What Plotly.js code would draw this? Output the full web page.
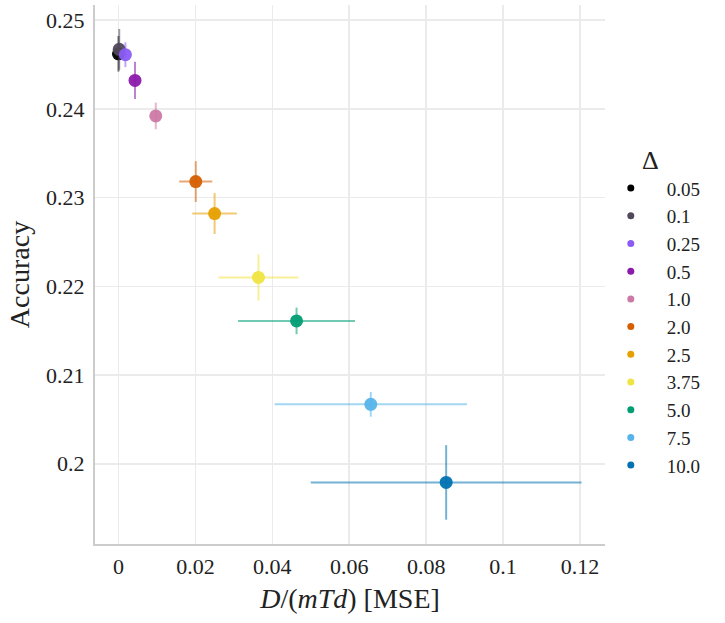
<!DOCTYPE html>
<html><head><meta charset="utf-8">
<script src="https://cdn.plot.ly/plotly-3.0.1.min.js"></script>
<style>html,body{margin:0;padding:0;background:#fff;}</style>
</head><body>
<div id="chart" style="width:725px;height:623px;"></div>
<script>
const deltas = ['0.05','0.1','0.25','0.5','1.0','2.0','2.5','3.75','5.0','7.5','10.0'];
const mse = [0.0000, 0.0002, 0.0018, 0.0043, 0.0097, 0.0201, 0.0250, 0.0364, 0.0463, 0.0656, 0.0852];
const mseErr = [0.0002, 0.0003, 0.0004, 0.0005, 0.0006, 0.0043, 0.0058, 0.0104, 0.0152, 0.0250, 0.0352];
const acc = [0.2462, 0.2467, 0.2461, 0.2432, 0.2392, 0.2318, 0.2282, 0.2210, 0.2161, 0.2067, 0.1979];
const accErr = [0.0020, 0.0023, 0.0014, 0.0021, 0.0015, 0.0023, 0.0023, 0.0026, 0.0015, 0.0014, 0.0042];
const colors = ['#000000','#51485b','#8a5cf5','#8c1aac','#cc79a7','#d55e00','#e69f00','#f0e442','#009e73','#56b4e9','#0072b2'];
const xTicks = [0, 0.02, 0.04, 0.06, 0.08, 0.1, 0.12];
const xTickText = ['0','0.02','0.04','0.06','0.08','0.1','0.12'];
const yTicks = [0.2, 0.21, 0.22, 0.23, 0.24, 0.25];
const yTickText = ['0.2','0.21','0.22','0.23','0.24','0.25'];

function rgba(hex, a){
  const r=parseInt(hex.slice(1,3),16), g=parseInt(hex.slice(3,5),16), b=parseInt(hex.slice(5,7),16);
  return 'rgba('+r+','+g+','+b+','+a+')';
}
const serif = '"Liberation Serif", "DejaVu Serif", serif';
const traces = [];
deltas.forEach((d,i)=>{
  traces.push({
    type:'scatter', mode:'markers', x:[mse[i]], y:[acc[i]],
    error_x:{type:'data', array:[mseErr[i]], color:rgba(colors[i],0.55), thickness:2, width:0},
    error_y:{type:'data', array:[accErr[i]], color:rgba(colors[i],0.55), thickness:2, width:0},
    marker:{color:colors[i], size:13, opacity:0.95, line:{width:0}},
    showlegend:false, hoverinfo:'skip'
  });
});
deltas.forEach((d,i)=>{
  traces.push({
    type:'scatter', mode:'markers', x:[null], y:[null], name:d,
    marker:{color:colors[i], size:7}, showlegend:true
  });
});
const layout = {
  width:725, height:623,
  margin:{l:95, r:120, t:5, b:79},
  paper_bgcolor:'#fff', plot_bgcolor:'#fff',
  font:{family:serif, color:'#222', size:20},
  xaxis:{
    range:[-0.0061, 0.1265], tickvals:xTicks, ticktext:xTickText,
    showgrid:true, gridcolor:'#ebebeb', gridwidth:1.5, zeroline:false,
    showline:true, linecolor:'#cccccc', linewidth:2, ticks:'',
    tickfont:{family:serif, size:22, color:'#222'}, ticklabelstandoff:2,
    title:{text:'<i>D</i>/(<i>mTd</i>) [MSE]', font:{family:serif, size:28, color:'#222'}, standoff:10}
  },
  yaxis:{
    range:[0.19096, 0.2517], tickvals:yTicks, ticktext:yTickText,
    showgrid:true, gridcolor:'#ebebeb', gridwidth:1.5, zeroline:false,
    showline:true, linecolor:'#cccccc', linewidth:2, ticks:'',
    tickfont:{family:serif, size:22, color:'#222'}, ticklabelstandoff:4,
    title:{text:'Accuracy', font:{family:serif, size:28, color:'#222'}, standoff:8}
  },
  legend:{
    x:0.98, xanchor:'left', y:0.758, yanchor:'top',
    title:{text:'Δ', font:{family:serif, size:26, color:'#222'}, side:'top center'},
    font:{family:serif, size:19, color:'#222'},
    itemwidth:62, tracegroupgap:0, bgcolor:'rgba(0,0,0,0)'
  }
};
Plotly.newPlot('chart', traces, layout, {displayModeBar:false, staticPlot:true});
</script>
</body></html>
